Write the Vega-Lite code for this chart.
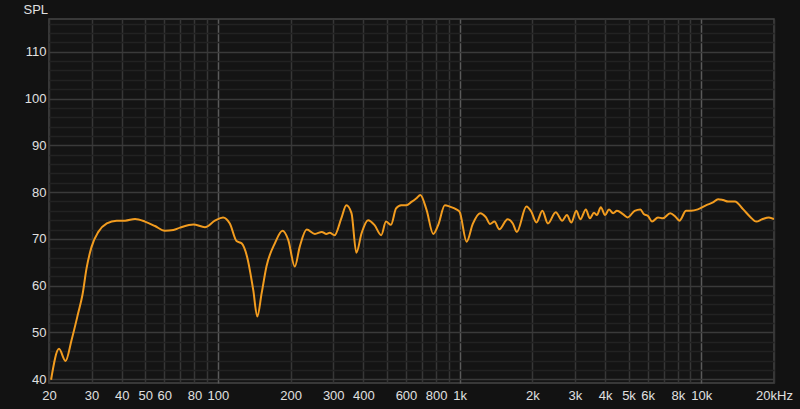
{
  "$schema": "https://vega.github.io/schema/vega-lite/v6.json",
  "width": 725,
  "height": 364,
  "autosize": {"type": "none"},
  "padding": {"left": 49, "top": 19, "right": 26, "bottom": 26},
  "background": "#121212",
  "config": {
    "view": {"fill": "#141414", "stroke": "#464646", "strokeWidth": 1.5},
    "font": "Liberation Sans",
    "axis": {"domain": false, "ticks": false, "labelColor": "#e0e0e0", "labelFontSize": 13, "labelFont": "Liberation Sans", "titleFont": "Liberation Sans"}
  },
  "data": {"values": [
    {"f": 20.4, "spl": 39.9}, {"f": 22.0, "spl": 46.5}, {"f": 23.4, "spl": 43.9}, {"f": 24.8, "spl": 48.4},
    {"f": 26.4, "spl": 54.1}, {"f": 27.5, "spl": 58.0}, {"f": 28.6, "spl": 63.7}, {"f": 30.0, "spl": 68.3},
    {"f": 32.0, "spl": 71.5}, {"f": 34.7, "spl": 73.3}, {"f": 38.1, "spl": 73.9}, {"f": 41.3, "spl": 73.9},
    {"f": 45.4, "spl": 74.25}, {"f": 49.9, "spl": 73.7}, {"f": 54.9, "spl": 72.75}, {"f": 60.3, "spl": 71.75},
    {"f": 65.4, "spl": 71.9}, {"f": 69.7, "spl": 72.4}, {"f": 79.1, "spl": 73.1}, {"f": 88.4, "spl": 72.5},
    {"f": 97.1, "spl": 73.9}, {"f": 105, "spl": 74.6}, {"f": 112, "spl": 73.3}, {"f": 119.4, "spl": 69.55},
    {"f": 125.3, "spl": 69.05}, {"f": 132, "spl": 66.2}, {"f": 140, "spl": 59.1}, {"f": 145.5, "spl": 53.4},
    {"f": 151.7, "spl": 58.4}, {"f": 158.8, "spl": 64.1}, {"f": 172, "spl": 69.05}, {"f": 185, "spl": 71.75},
    {"f": 195.4, "spl": 69.8}, {"f": 208, "spl": 64.1}, {"f": 218, "spl": 68.3}, {"f": 233, "spl": 72.0},
    {"f": 252, "spl": 71.05}, {"f": 269, "spl": 71.5}, {"f": 281, "spl": 71.05}, {"f": 290, "spl": 71.3},
    {"f": 304, "spl": 70.8}, {"f": 324, "spl": 74.4}, {"f": 340, "spl": 77.2}, {"f": 357, "spl": 75.5},
    {"f": 374, "spl": 67.05}, {"f": 393, "spl": 71.2}, {"f": 418, "spl": 74.0}, {"f": 444, "spl": 73.0},
    {"f": 474, "spl": 70.8}, {"f": 496, "spl": 73.7}, {"f": 520, "spl": 73.0}, {"f": 546, "spl": 76.5},
    {"f": 573, "spl": 77.2}, {"f": 602, "spl": 77.2}, {"f": 632, "spl": 77.9}, {"f": 663, "spl": 78.7},
    {"f": 688, "spl": 79.4}, {"f": 730, "spl": 76.2}, {"f": 778, "spl": 71.05}, {"f": 816, "spl": 73.0},
    {"f": 869, "spl": 77.2}, {"f": 911, "spl": 76.9}, {"f": 970, "spl": 76.3}, {"f": 1000, "spl": 75.8},
    {"f": 1070, "spl": 69.4}, {"f": 1134, "spl": 73.2}, {"f": 1216, "spl": 75.5}, {"f": 1286, "spl": 74.6},
    {"f": 1336, "spl": 73.2}, {"f": 1394, "spl": 73.7}, {"f": 1460, "spl": 72.05}, {"f": 1580, "spl": 74.2},
    {"f": 1660, "spl": 73.3}, {"f": 1726, "spl": 71.5}, {"f": 1890, "spl": 76.9}, {"f": 1982, "spl": 75.8},
    {"f": 2080, "spl": 73.5}, {"f": 2200, "spl": 76.0}, {"f": 2320, "spl": 73.3}, {"f": 2500, "spl": 75.7},
    {"f": 2660, "spl": 73.9}, {"f": 2780, "spl": 75.1}, {"f": 2900, "spl": 73.5}, {"f": 3040, "spl": 76.0},
    {"f": 3160, "spl": 74.2}, {"f": 3330, "spl": 76.3}, {"f": 3460, "spl": 74.4}, {"f": 3600, "spl": 75.6},
    {"f": 3700, "spl": 75.1}, {"f": 3840, "spl": 76.75}, {"f": 4000, "spl": 75.1}, {"f": 4150, "spl": 76.3},
    {"f": 4320, "spl": 75.5}, {"f": 4480, "spl": 76.0}, {"f": 4740, "spl": 75.3}, {"f": 4960, "spl": 74.6},
    {"f": 5300, "spl": 76.0}, {"f": 5600, "spl": 76.3}, {"f": 5780, "spl": 75.3}, {"f": 6020, "spl": 74.9},
    {"f": 6260, "spl": 73.7}, {"f": 6620, "spl": 74.6}, {"f": 6940, "spl": 74.4}, {"f": 7440, "spl": 75.5},
    {"f": 7820, "spl": 74.75}, {"f": 8120, "spl": 73.9}, {"f": 8660, "spl": 76.0}, {"f": 9080, "spl": 76.0},
    {"f": 9680, "spl": 76.3}, {"f": 10500, "spl": 77.2}, {"f": 11180, "spl": 77.8}, {"f": 11740, "spl": 78.5},
    {"f": 12320, "spl": 78.3}, {"f": 12920, "spl": 78.0}, {"f": 13780, "spl": 78.0}, {"f": 14920, "spl": 76.3},
    {"f": 15920, "spl": 74.75}, {"f": 16900, "spl": 73.7}, {"f": 17860, "spl": 74.2}, {"f": 19060, "spl": 74.6},
    {"f": 20000, "spl": 74.2}
  ]},
  "mark": {"type": "line", "color": "#f29c1f", "strokeWidth": 2, "interpolate": "monotone", "clip": true},
  "encoding": {
    "x": {
      "field": "f", "type": "quantitative",
      "scale": {"type": "log", "domain": [20, 20000], "nice": false},
      "axis": {
        "title": null,
        "values": [20,30,40,50,60,70,80,90,100,200,300,400,500,600,700,800,900,1000,2000,3000,4000,5000,6000,7000,8000,9000,10000,20000],
        "labelExpr": "indexof([70,90,500,700,900,7000,9000], datum.value) >= 0 ? '' : (datum.value == 20000 ? '20kHz' : (datum.value >= 1000 ? (datum.value/1000) + 'k' : '' + datum.value))",
        "labelOverlap": false,
        "labelBound": false,
        "labelFlush": false,
        "labelPadding": 6,
        "grid": true,
        "gridColor": {"condition": {"test": "datum.value == 100 || datum.value == 1000 || datum.value == 10000", "value": "#5a5a5a"}, "value": "#363636"},
        "gridWidth": 1.5
      }
    },
    "y": {
      "field": "spl", "type": "quantitative",
      "scale": {"domain": [39.2, 117], "nice": false, "zero": false},
      "axis": {
        "title": "SPL",
        "titleAngle": 0,
        "titleAlign": "left",
        "titleBaseline": "middle",
        "titleX": -26,
        "titleY": -10,
        "titleColor": "#e0e0e0",
        "titleFontSize": 13,
        "titleFontWeight": "normal",
        "values": [40,42,44,46,48,50,52,54,56,58,60,62,64,66,68,70,72,74,76,78,80,82,84,86,88,90,92,94,96,98,100,102,104,106,108,110,112,114,116],
        "labelExpr": "datum.value % 10 == 0 ? '' + datum.value : ''",
        "labelPadding": 3,
        "labelOverlap": false,
        "grid": true,
        "gridColor": {"condition": {"test": "datum.value % 10 == 0", "value": "#3a3a3a"}, "value": "#222222"},
        "gridWidth": 1.5
      }
    }
  }
}
